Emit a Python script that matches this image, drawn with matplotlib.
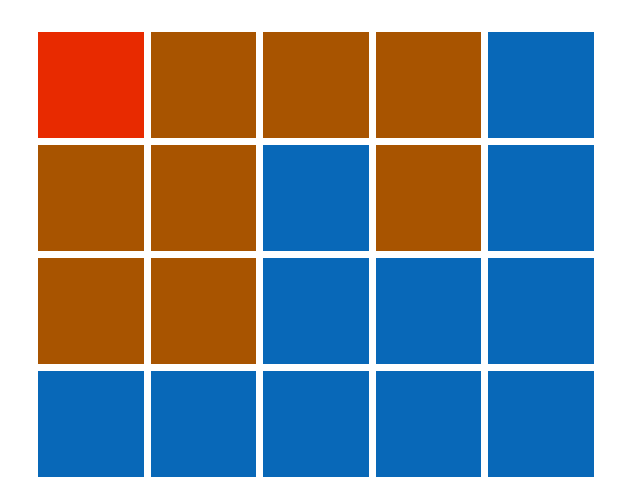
import numpy as np
import matplotlib.pyplot as plt
from matplotlib.colors import ListedColormap

# cell categories, top row first: 0 = blue, 1 = brown, 2 = red
row1 = [2, 1, 1, 1, 0]
row2 = [1, 1, 0, 1, 0]
row3 = [1, 1, 0, 0, 0]
row4 = [0, 0, 0, 0, 0]
colors = ['#0868B8', '#A85400', '#E82A00']

grid = np.array([row1, row2, row3, row4])

fig = plt.figure(figsize=(6.3, 5.04), dpi=100)
ax = fig.add_axes([34/630, 1 - 480/504, 563/630, 452/504])
ax.pcolormesh(grid, cmap=ListedColormap(colors), vmin=-0.5, vmax=2.5,
              edgecolors='white', linewidth=3.8)
ax.set_xlim(0, grid.shape[1])
ax.set_ylim(grid.shape[0], 0)
ax.axis('off')

plt.savefig('out.png', dpi=100)
